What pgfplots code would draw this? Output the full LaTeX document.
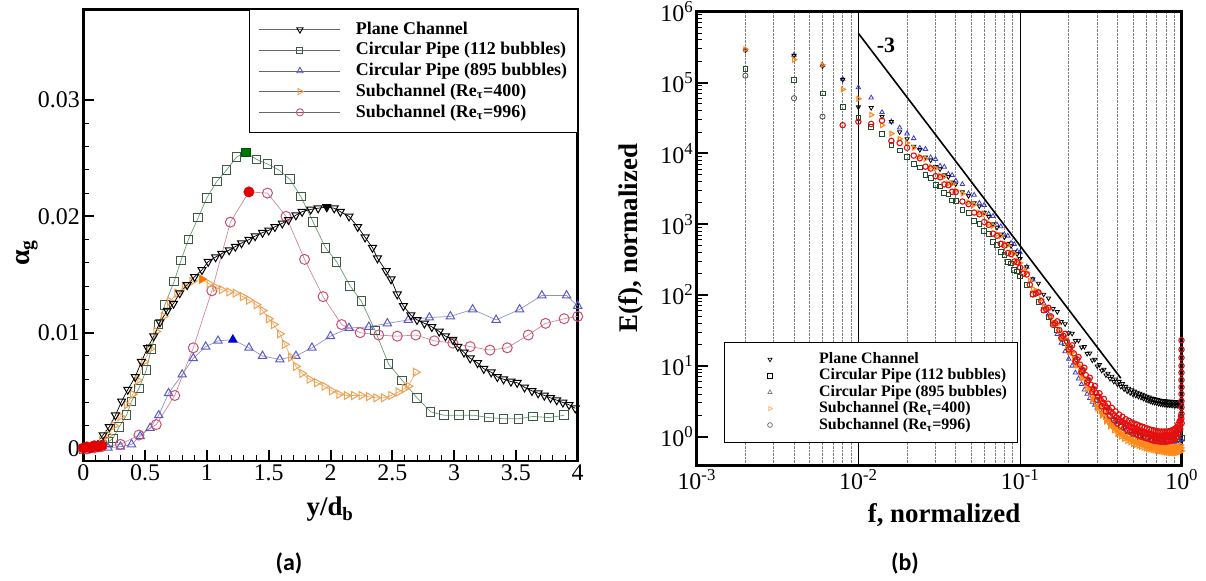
\documentclass[border=0pt]{standalone}
\usepackage{pgfplots}
\pgfplotsset{compat=1.18}
\usepackage{fontspec}
\setmainfont{Liberation Serif}
\newfontfamily\capfont{Carlito}
\definecolor{sqM}{HTML}{3C5A46}\definecolor{sqL}{HTML}{6A9A70}
\definecolor{trM}{HTML}{5A5AD0}\definecolor{trL}{HTML}{9090C8}
\definecolor{orM}{HTML}{F0A050}\definecolor{orL}{HTML}{F0B070}
\definecolor{ciM}{HTML}{C8506E}\definecolor{ciL}{HTML}{D08898}
\definecolor{rG}{HTML}{1F4F2A}\definecolor{rB}{HTML}{3A3AD0}
\definecolor{rO}{HTML}{FF8A1A}\definecolor{rR}{HTML}{E41010}
\pgfplotsset{
 legL/.style={legend image code/.code={\draw[mark repeat=2,mark phase=2,##1] plot coordinates {(0bp,0bp) (40.5bp,0bp) (81bp,0bp)};}},
 legR/.style={legend image code/.code={\path (-13bp,0bp) (44bp,0bp); \draw[##1] plot coordinates {(22bp,0bp)};}},
}
\begin{document}
\begin{tikzpicture}[x=1bp,y=1bp]
\useasboundingbox (0,0) rectangle (1206,581);
% ---------------- (a) ----------------
\begin{axis}[at={(83.3bp,120bp)}, anchor=south west, scale only axis,
 width=494.4bp, height=451.7bp, xmin=0, xmax=4, ymin=-0.00103, ymax=0.0378,
 clip=false, scaled x ticks=false, scaled y ticks=false,
 xtick={0,0.5,1,1.5,2,2.5,3,3.5,4}, xticklabels={0,0.5,1,1.5,2,2.5,3,3.5,4},
 ytick={0,0.01,0.02,0.03}, yticklabels={0,0.01,0.02,0.03},
 minor x tick num=4, minor y tick num=4,
 tick align=inside, xtick pos=left, ytick pos=left,
 major tick length=11bp, minor tick length=5.5bp,
 major tick style={line width=2bp, black}, minor tick style={line width=1bp, black},
 axis line style={line width=2.6bp},
 tick label style={font=\fontsize{24}{28}\selectfont},
 legend cell align=left,
 legend style={at={(1,1)}, anchor=north east, draw=black, line width=1bp, fill=white,
  font=\fontsize{18}{20}\selectfont\bfseries, inner xsep=10bp, inner ysep=10.5bp,
  row sep=2.2bp, column sep=15bp, nodes={inner sep=0pt, text height=14bp, text depth=4.5bp}},
]
\addlegendimage{legL, color=gray!80!black, line width=0.8bp, mark=triangle, mark size=3.6bp, mark options={rotate=180, solid, draw=black, line width=0.9bp}}
\addlegendentry{Plane Channel}
\addlegendimage{legL, color=gray!80!black, line width=0.8bp, mark=square, mark size=3bp, mark options={solid, draw=sqM, line width=0.9bp}}
\addlegendentry{Circular Pipe (112 bubbles)}
\addlegendimage{legL, color=gray!80!black, line width=0.8bp, mark=triangle, mark size=3.6bp, mark options={solid, draw=trM, line width=0.9bp}}
\addlegendentry{Circular Pipe (895 bubbles)}
\addlegendimage{legL, color=gray!80!black, line width=0.8bp, mark=triangle, mark size=3.6bp, mark options={rotate=-90, solid, draw=orM, line width=0.9bp}}
\addlegendentry{Subchannel (Re\textsubscript{τ}=400)}
\addlegendimage{legL, color=gray!80!black, line width=0.8bp, mark=o, mark size=3.6bp, mark options={solid, draw=ciM, line width=0.9bp}}
\addlegendentry{Subchannel (Re\textsubscript{τ}=996)}
% Circular pipe 112
\addplot[forget plot, color=sqL, line width=0.7bp, mark=square, mark size=4.3bp, mark options={draw=sqM, line width=1bp}] coordinates {
(0,0) (0.05,0.0001) (0.10,0.0002) (0.15,0.0004) (0.20,0.0006) (0.24,0.0009) (0.29,0.0019) (0.35,0.0029) (0.39,0.0041) (0.45,0.0052) (0.51,0.0068) (0.55,0.0086) (0.61,0.0107) (0.66,0.0124) (0.735,0.0144) (0.79,0.0162) (0.85,0.0180) (0.93,0.0199) (1.00,0.0216) (1.08,0.0230) (1.16,0.0240) (1.24,0.0251) (1.315,0.0255) (1.40,0.0249) (1.49,0.0245) (1.58,0.0240) (1.67,0.0232) (1.76,0.0217) (1.86,0.0195) (1.96,0.0173) (2.05,0.0161) (2.16,0.0140) (2.25,0.0127) (2.36,0.0102) (2.47,0.0073) (2.58,0.0059) (2.70,0.0044) (2.81,0.0032) (2.92,0.0029) (3.04,0.0029) (3.16,0.0029) (3.28,0.0027) (3.40,0.0026) (3.52,0.0026) (3.64,0.0028) (3.77,0.0027) (3.89,0.0029)};
% Circular pipe 895
\addplot[forget plot, color=trL, line width=0.7bp, mark=triangle, mark size=4.8bp, mark options={draw=trM, line width=1bp}] coordinates {
(0,0) (0.10,0.0000) (0.20,0.0001) (0.30,0.0002) (0.39,0.0004) (0.46,0.0011) (0.54,0.0018) (0.61,0.0029) (0.69,0.0048) (0.80,0.0064) (0.89,0.0078) (0.99,0.0088) (1.09,0.0093) (1.21,0.0094) (1.34,0.0087) (1.45,0.0080) (1.59,0.0077) (1.72,0.0080) (1.85,0.0087) (2.00,0.0097) (2.15,0.0104) (2.31,0.0105) (2.46,0.0108) (2.63,0.0111) (2.80,0.0113) (2.97,0.0114) (3.15,0.0120) (3.34,0.0111) (3.53,0.0120) (3.71,0.0132) (3.91,0.0132) (4.0,0.0123)};
% Subchannel 996
\addplot[forget plot, color=ciL, line width=0.7bp, mark=o, mark size=5bp, mark options={draw=ciM, line width=1bp}] coordinates {
(0,0) (0.03,0.0000) (0.06,0.0001) (0.09,0.0001) (0.12,0.0002) (0.15,0.0002) (0.30,0.0004) (0.45,0.0012) (0.59,0.0021) (0.74,0.0046) (0.89,0.0087) (1.04,0.0136) (1.19,0.0195) (1.34,0.0221) (1.49,0.0220) (1.64,0.0200) (1.79,0.0163) (1.94,0.0131) (2.09,0.0107) (2.24,0.0100) (2.39,0.0098) (2.54,0.0097) (2.69,0.0098) (2.84,0.0093) (2.99,0.0091) (3.13,0.0088) (3.29,0.0085) (3.43,0.0087) (3.60,0.0098) (3.74,0.0108) (3.89,0.0112) (4.0,0.0114)};
% Subchannel 400
\addplot[forget plot, color=orL, line width=0.7bp, mark=triangle, mark size=4.6bp, mark options={rotate=-90, draw=orM, line width=1bp}] coordinates {
(0,0) (0.05,0.0001) (0.10,0.0003) (0.15,0.0007) (0.20,0.0012) (0.25,0.0020) (0.30,0.0028) (0.35,0.0038) (0.40,0.0047) (0.44,0.0059) (0.49,0.0075) (0.54,0.0086) (0.59,0.0101) (0.65,0.0114) (0.70,0.0127) (0.76,0.0134) (0.82,0.0140) (0.88,0.0144) (0.96,0.0146) (1.02,0.0142) (1.07,0.0139) (1.12,0.0137) (1.18,0.0135) (1.23,0.0134) (1.29,0.0131) (1.34,0.0128) (1.40,0.0124) (1.45,0.0119) (1.50,0.0112) (1.54,0.0107) (1.59,0.0099) (1.63,0.0090) (1.68,0.0079) (1.72,0.0071) (1.77,0.0065) (1.83,0.0060) (1.89,0.0057) (1.95,0.0054) (2.01,0.0050) (2.07,0.0047) (2.13,0.0046) (2.19,0.0046) (2.25,0.0046) (2.31,0.0045) (2.37,0.0044) (2.43,0.0044) (2.49,0.0046) (2.55,0.0049) (2.60,0.0052) (2.63,0.0054) (2.69,0.0066)};
% Plane channel
\addplot[forget plot, color=black, line width=0.7bp, mark=triangle, mark size=4.6bp, mark options={rotate=180, line width=1bp}] coordinates {
(0,0) (0.05,0.0001) (0.10,0.0004) (0.16,0.0012) (0.21,0.0019) (0.26,0.0029) (0.31,0.0041) (0.36,0.0051) (0.42,0.0062) (0.47,0.0075) (0.52,0.0087) (0.57,0.0097) (0.62,0.0109) (0.68,0.0119) (0.73,0.0125) (0.78,0.0134) (0.84,0.0141) (0.90,0.0148) (0.96,0.0154) (1.01,0.0161) (1.07,0.0165) (1.12,0.0168) (1.18,0.0171) (1.23,0.0174) (1.28,0.0177) (1.34,0.0180) (1.39,0.0183) (1.45,0.0186) (1.50,0.0188) (1.55,0.0191) (1.61,0.0194) (1.66,0.0197) (1.72,0.0201) (1.77,0.0204) (1.84,0.0206) (1.90,0.0207) (1.97,0.0208) (2.03,0.0207) (2.08,0.0204) (2.15,0.0200) (2.22,0.0191) (2.28,0.0182) (2.34,0.0173) (2.38,0.0164) (2.45,0.0153) (2.49,0.0146) (2.54,0.0133) (2.59,0.0123) (2.65,0.0115) (2.70,0.0111) (2.76,0.0108) (2.82,0.0105) (2.88,0.0101) (2.93,0.0097) (2.99,0.0094) (3.03,0.0088) (3.08,0.0083) (3.13,0.0078) (3.19,0.0074) (3.24,0.0069) (3.30,0.0066) (3.35,0.0062) (3.40,0.0060) (3.46,0.0058) (3.51,0.0057) (3.57,0.0053) (3.63,0.0050) (3.68,0.0048) (3.73,0.0046) (3.78,0.0044) (3.83,0.0042) (3.88,0.0040) (3.93,0.0038) (3.98,0.0035)};
% filled peak markers
\addplot[forget plot, only marks, mark=triangle*, mark size=4.6bp, mark options={rotate=180, fill=black, draw=black}] coordinates {(1.97,0.0208)};
\addplot[forget plot, only marks, mark=square*, mark size=4.3bp, mark options={fill=green!45!black, draw=green!35!black}] coordinates {(1.315,0.0255)};
\addplot[forget plot, only marks, mark=triangle*, mark size=4.8bp, mark options={fill=blue!85!black, draw=blue!85!black}] coordinates {(1.21,0.0094)};
\addplot[forget plot, only marks, mark=triangle*, mark size=4.6bp, mark options={rotate=-90, fill=orange!90!red, draw=orange!90!red}] coordinates {(0.96,0.0146)};
\addplot[forget plot, only marks, mark=*, mark size=5bp, mark options={fill=red!90!black, draw=red!90!black}] coordinates {(1.34,0.0221) (0,0.0001) (0.03,0.0002) (0.06,0.0001) (0.09,0.0003) (0.12,0.0002) (0.15,0.0003)};
\end{axis}
% ---------------- (b) ----------------
\begin{axis}[at={(696.7bp,115.5bp)}, anchor=south west, scale only axis,
 width=485bp, height=453.8bp, xmode=log, ymode=log,
 xmin=0.001, xmax=1, ymin=0.392, ymax=1000000, clip=false,
 xtick={0.001,0.01,0.1,1},
 xticklabels={10\textsuperscript{-3},10\textsuperscript{-2},10\textsuperscript{-1},10\textsuperscript{0}},
 ytick={1,10,100,1000,10000,100000,1000000},
 yticklabels={10\textsuperscript{0},10\textsuperscript{1},10\textsuperscript{2},10\textsuperscript{3},10\textsuperscript{4},10\textsuperscript{5},10\textsuperscript{6}},
 tick align=inside, xtick pos=left, ytick pos=left,
 major tick length=11bp, minor tick length=5.5bp,
 major tick style={line width=2bp, black}, minor tick style={line width=1bp, black},
 every x tick/.style={draw=none}, every major x tick/.style={draw=none}, every minor x tick/.style={draw=none},
 xmajorgrids, xminorgrids,
 major grid style={black, line width=0.8bp, solid},
 minor grid style={gray, densely dotted, line width=0.7bp},
 axis line style={line width=2.8bp},
 tick label style={font=\fontsize{24}{28}\selectfont},
 legend cell align=left,
 legend style={at={(0.0557,0.0502)}, anchor=south west, draw=black, line width=1bp, fill=white,
  font=\fontsize{16}{18}\selectfont\bfseries, inner xsep=10.3bp, inner ysep=9.2bp,
  row sep=0.4bp, column sep=26.6bp, nodes={inner sep=0pt, text height=12bp, text depth=4bp}},
]
\addlegendimage{only marks, legR, mark=triangle, mark size=2.4bp, mark options={rotate=180, draw=black, line width=0.7bp}}
\addlegendentry{Plane Channel}
\addlegendimage{only marks, legR, mark=square, mark size=2.2bp, mark options={draw=black, line width=0.7bp}}
\addlegendentry{Circular Pipe (112 bubbles)}
\addlegendimage{only marks, legR, mark=triangle, mark size=2.4bp, mark options={draw=gray, line width=0.7bp}}
\addlegendentry{Circular Pipe (895 bubbles)}
\addlegendimage{only marks, legR, mark=triangle, mark size=2.4bp, mark options={rotate=-90, draw=orange!60, line width=0.7bp}}
\addlegendentry{Subchannel (Re\textsubscript{τ}=400)}
\addlegendimage{only marks, legR, mark=o, mark size=2.4bp, mark options={draw=gray!80!black, line width=0.7bp}}
\addlegendentry{Subchannel (Re\textsubscript{τ}=996)}
% reference slope -3
\addplot[forget plot, black, line width=1.6bp] coordinates {(0.01,495000) (0.42,6.7)};
\node[font=\bfseries\fontsize{22}{24}\selectfont] at (axis cs:0.0148,340000) {-3};
% Circular pipe 112 (squares)
\addplot[forget plot, only marks, mark=square, mark size=2.4bp, mark options={draw=rG, line width=0.8bp}] coordinates {
(0.002,155000) (0.004,110000) (0.006,70000) (0.008,45000) (0.010,32000) (0.012,23500) (0.014,19000) (0.016,13000) (0.018,11000) (0.020,9000)
(0.022,7040) (0.024,6330) (0.026,4920) (0.028,4540) (0.030,3610) (0.032,3410) (0.034,2760) (0.036,2640) (0.038,2170) (0.040,2110)
(0.044,1590) (0.048,1430) (0.052,1110) (0.056,1020) (0.060,814) (0.064,726) (0.068,559) (0.072,510) (0.076,401) (0.080,371)
(0.084,296) (0.088,280) (0.092,225) (0.096,215) (0.100,183)
(0.11,140) (0.12,105) (0.13,80) (0.14,62) (0.15,49) (0.16,40) (0.17,32) (0.18,26) (0.19,21) (0.20,17.5)
(0.22,12) (0.24,8.5) (0.26,6.2) (0.28,4.6) (0.30,3.6) (0.34,2.3) (0.38,1.7) (0.42,1.38) (0.46,1.2) (0.50,1.08)
(0.55,1.0) (0.60,0.95) (0.65,0.92) (0.70,0.9) (0.75,0.88) (0.80,0.88) (0.85,0.88) (0.90,0.9) (0.95,0.92) (1.00,0.95)};
% Circular pipe 895 (triangles)
\addplot[forget plot, only marks, mark=triangle, mark size=2.6bp, mark options={draw=rB, line width=0.8bp}] coordinates {
(0.002,290000) (0.004,245000) (0.006,175000) (0.008,112000) (0.010,85000) (0.012,61000) (0.014,38000) (0.016,28000) (0.018,23000) (0.020,19000)
(0.022,16300) (0.024,11900) (0.026,11500) (0.028,8750) (0.030,8260) (0.032,6640) (0.034,6440) (0.036,5100) (0.038,4920) (0.040,4110)
(0.044,3660) (0.048,2720) (0.052,2580) (0.056,1990) (0.060,1860) (0.064,1400) (0.068,1300) (0.072,984) (0.076,926) (0.080,716)
(0.084,685) (0.088,540) (0.092,521) (0.096,415) (0.100,398)
(0.11,250) (0.12,165) (0.13,110) (0.14,76) (0.15,53) (0.16,38) (0.17,28) (0.18,21) (0.19,16) (0.20,12.5)
(0.21,10) (0.22,8) (0.23,6.6) (0.24,5.5) (0.25,4.6) (0.26,4.0) (0.27,3.5) (0.28,3.1) (0.29,2.8) (0.30,2.55)
(0.32,2.2) (0.34,1.95) (0.36,1.75) (0.38,1.6) (0.40,1.48) (0.45,1.25) (0.50,1.1) (0.55,1.0) (0.60,0.93) (0.65,0.88)
(0.70,0.85) (0.75,0.83) (0.80,0.82) (0.85,0.82) (0.90,0.83) (0.95,0.86) (1.00,0.9)};
% Plane channel (down triangles)
\addplot[forget plot, only marks, mark=triangle, mark size=2.4bp, mark options={rotate=180, draw=black, line width=0.8bp}] coordinates {
(0.002,285000) (0.004,240000) (0.006,170000) (0.008,110000) (0.010,45000) (0.012,44000) (0.014,33000) (0.016,28000) (0.018,20000) (0.020,16000)
(0.022,12500) (0.024,11250) (0.026,8830) (0.028,7990) (0.030,6490) (0.032,6000) (0.034,4970) (0.036,4660) (0.038,3900) (0.040,3680)
(0.044,2850) (0.048,2510) (0.052,1990) (0.056,1800) (0.060,1460) (0.064,1280) (0.068,1004) (0.072,898) (0.076,720) (0.080,654)
(0.084,532) (0.088,493) (0.092,405) (0.096,379) (0.100,325)
(0.11,249) (0.12,169) (0.13,146) (0.14,102) (0.15,90) (0.16,64) (0.17,58) (0.18,42) (0.19,39) (0.20,29)
(0.21,28.6) (0.22,22.6) (0.23,22.8) (0.24,18.3) (0.25,18.6) (0.26,14.9) (0.27,15.1) (0.28,12.0) (0.29,12.3) (0.30,9.9)
(0.31,10.4) (0.32,8.6) (0.33,8.9) (0.34,7.4) (0.35,7.8) (0.36,6.6) (0.37,7.1) (0.38,6.0) (0.39,6.5) (0.40,5.5)
(0.41,6.0) (0.42,5.1) (0.43,5.6) (0.44,4.7) (0.45,5.1) (0.46,4.4) (0.47,4.8) (0.48,4.15) (0.49,4.56) (0.50,3.95)
(0.51,4.37) (0.52,3.81) (0.53,4.22) (0.54,3.68) (0.55,4.09) (0.56,3.57) (0.57,3.95) (0.58,3.45) (0.59,3.83) (0.60,3.34)
(0.61,3.71) (0.62,3.24) (0.63,3.60) (0.64,3.15) (0.65,3.50) (0.66,3.07) (0.67,3.43) (0.68,3.02) (0.69,3.37) (0.70,2.96)
(0.71,3.32) (0.72,2.92) (0.73,3.28) (0.74,2.89) (0.75,3.23) (0.76,2.86) (0.77,3.21) (0.78,2.84) (0.79,3.19) (0.80,2.82)
(0.81,3.17) (0.82,2.80) (0.83,3.15) (0.84,2.79) (0.85,3.14) (0.86,2.78) (0.87,3.13) (0.88,2.77) (0.89,3.12) (0.90,2.76)
(0.91,3.12) (0.92,2.75) (0.93,3.11) (0.94,2.75) (0.95,3.11) (0.96,2.75) (0.97,3.11) (0.98,2.76) (0.99,3.12) (1.00,2.77)};
% Subchannel 400 (right triangles)
\addplot[forget plot, only marks, mark=triangle, mark size=2.7bp, mark options={rotate=-90, draw=rO, line width=1.1bp}] coordinates {
(0.002,295000) (0.004,210000) (0.006,177000) (0.008,80000) (0.010,59000) (0.012,35000) (0.014,25000) (0.016,19000) (0.018,16000) (0.020,14000)
(0.022,11980) (0.024,8990) (0.026,8360) (0.028,6450) (0.030,6140) (0.032,4840) (0.034,4700) (0.036,3760) (0.038,3700) (0.040,3000)
(0.044,2700) (0.048,2030) (0.052,1885) (0.056,1450) (0.060,1385) (0.064,1030) (0.068,951) (0.072,725) (0.076,682) (0.080,528)
(0.084,504) (0.088,398) (0.092,383) (0.096,306) (0.100,284)
(0.11,209) (0.12,122) (0.13,110) (0.14,68) (0.15,64) (0.16,40.5) (0.17,38.5) (0.18,24.8) (0.19,24.2) (0.20,15.8)
(0.21,15.4) (0.22,10.2) (0.23,10.1) (0.24,6.75) (0.25,6.8) (0.26,4.68) (0.27,4.84) (0.28,3.33) (0.29,3.47) (0.30,2.48)
(0.31,2.70) (0.32,1.98) (0.33,2.2) (0.34,1.64) (0.35,1.84) (0.36,1.40) (0.37,1.60) (0.38,1.22) (0.39,1.41) (0.40,1.09)
(0.41,1.28) (0.42,1.0) (0.43,1.18) (0.44,0.93) (0.45,1.10) (0.46,0.87) (0.47,1.03) (0.48,0.83) (0.49,0.99) (0.50,0.79)
(0.51,0.95) (0.52,0.765) (0.53,0.91) (0.54,0.74) (0.55,0.89) (0.56,0.72) (0.57,0.87) (0.58,0.70) (0.59,0.85) (0.60,0.684)
(0.61,0.825) (0.62,0.67) (0.63,0.814) (0.64,0.66) (0.65,0.80) (0.66,0.648) (0.67,0.787) (0.68,0.639) (0.69,0.776) (0.70,0.63)
(0.71,0.765) (0.72,0.621) (0.73,0.759) (0.74,0.617) (0.75,0.748) (0.76,0.612) (0.77,0.743) (0.78,0.603) (0.79,0.737) (0.80,0.60)
(0.81,0.726) (0.82,0.594) (0.83,0.72) (0.84,0.59) (0.85,0.715) (0.86,0.585) (0.87,0.715) (0.88,0.585) (0.89,0.715) (0.90,0.585)
(0.91,0.715) (0.92,0.585) (0.93,0.72) (0.94,0.594) (0.95,0.726) (0.96,0.60) (0.97,0.737) (0.98,0.612) (0.99,0.76) (1.00,0.63)
(0.105,235) (0.115,160) (0.125,116) (0.135,87) (0.145,66) (0.155,51) (0.165,40) (0.175,31) (0.185,24.6) (0.195,19.6)
(0.205,15.6) (0.215,12.6) (0.225,10.2) (0.235,8.3) (0.245,6.8) (0.255,5.7) (0.265,4.8) (0.275,4.05) (0.285,3.42) (0.295,2.95)
(0.305,2.6) (0.315,2.32) (0.325,2.1) (0.335,1.91) (0.345,1.74) (0.355,1.61) (0.365,1.5) (0.375,1.4) (0.385,1.32) (0.395,1.24)
(0.405,1.18) (0.415,1.13) (0.425,1.09) (0.435,1.05) (0.445,1.01) (0.455,0.985) (0.465,0.955) (0.475,0.93) (0.485,0.91) (0.495,0.89)
(0.505,0.87) (0.515,0.855) (0.525,0.84) (0.535,0.825) (0.545,0.815) (0.555,0.805) (0.565,0.795) (0.575,0.785) (0.585,0.775) (0.595,0.765)
(0.605,0.755) (0.615,0.747) (0.625,0.742) (0.635,0.737) (0.645,0.732) (0.655,0.725) (0.665,0.717) (0.675,0.712) (0.685,0.707) (0.695,0.702)
(0.705,0.697) (0.715,0.692) (0.725,0.69) (0.735,0.687) (0.745,0.682) (0.755,0.68) (0.765,0.677) (0.775,0.672) (0.785,0.67) (0.795,0.667)
(0.805,0.662) (0.815,0.66) (0.825,0.657) (0.835,0.655) (0.845,0.652) (0.855,0.65) (0.865,0.65) (0.875,0.65) (0.885,0.65) (0.895,0.65)
(0.905,0.65) (0.915,0.65) (0.925,0.65) (0.935,0.657) (0.945,0.66) (0.955,0.662) (0.965,0.667) (0.975,0.675) (0.985,0.685) (0.995,0.695)};
% Subchannel 996 (circles)
\addplot[forget plot, only marks, mark=o, mark size=2.6bp, mark options={draw=gray!60!black, line width=0.8bp}] coordinates {
(0.002,125000) (0.004,60000) (0.006,33000)};
\addplot[forget plot, only marks, mark=o, mark size=2.7bp, mark options={draw=rR, line width=1.1bp}] coordinates {
(0.008,25000) (0.010,28000) (0.012,26000) (0.014,29000) (0.016,15000) (0.018,14000) (0.020,12000)
(0.022,9290) (0.024,8520) (0.026,6490) (0.028,6110) (0.030,4770) (0.032,4590) (0.034,3650) (0.036,3560) (0.038,2870) (0.040,2840)
(0.044,2090) (0.048,1920) (0.052,1460) (0.056,1380) (0.060,1075) (0.064,978) (0.068,737) (0.072,687) (0.076,529) (0.080,500)
(0.084,391) (0.088,377) (0.092,297) (0.096,290) (0.100,244)
(0.11,195) (0.12,102) (0.13,109) (0.14,61) (0.15,66) (0.16,38) (0.17,42.5) (0.18,24.7) (0.19,28.3) (0.20,17)
(0.21,19.5) (0.22,11.5) (0.23,13.3) (0.24,8.1) (0.25,9.4) (0.26,5.8) (0.27,6.8) (0.28,4.25) (0.29,5.2) (0.30,3.3)
(0.31,4.1) (0.32,2.68) (0.33,3.42) (0.34,2.28) (0.35,2.93) (0.36,1.96) (0.37,2.55) (0.38,1.73) (0.39,2.27) (0.40,1.53)
(0.41,2.05) (0.42,1.43) (0.43,1.91) (0.44,1.33) (0.45,1.77) (0.46,1.24) (0.47,1.68) (0.48,1.17) (0.49,1.59) (0.50,1.12)
(0.51,1.53) (0.52,1.08) (0.53,1.48) (0.54,1.04) (0.55,1.42) (0.56,1.0) (0.57,1.38) (0.58,0.98) (0.59,1.35) (0.60,0.95)
(0.61,1.31) (0.62,0.935) (0.63,1.27) (0.64,0.91) (0.65,1.25) (0.66,0.89) (0.67,1.23) (0.68,0.875) (0.69,1.20) (0.70,0.867)
(0.71,1.19) (0.72,0.86) (0.73,1.18) (0.74,0.85) (0.75,1.18) (0.76,0.85) (0.77,1.18) (0.78,0.85) (0.79,1.18) (0.80,0.85)
(0.81,1.18) (0.82,0.86) (0.83,1.19) (0.84,0.867) (0.85,1.20) (0.86,0.875) (0.87,1.23) (0.88,0.89) (0.89,1.25) (0.90,0.92)
(0.91,1.30) (0.92,0.95) (0.93,1.36) (0.94,1.01) (0.95,1.48) (0.96,1.12) (0.97,1.65) (0.98,1.28) (0.99,1.95) (1.00,1.55)
(0.105,200) (0.115,140) (0.125,105) (0.135,82) (0.145,63) (0.155,50) (0.165,40) (0.175,32) (0.185,26.5) (0.195,22)
(0.205,18.2) (0.215,15) (0.225,12.4) (0.235,10.4) (0.245,8.7) (0.255,7.4) (0.265,6.3) (0.275,5.4) (0.285,4.7) (0.295,4.15)
(0.305,3.7) (0.315,3.32) (0.325,3.02) (0.335,2.79) (0.345,2.58) (0.355,2.39) (0.365,2.23) (0.375,2.1) (0.385,1.97) (0.395,1.86)
(0.405,1.77) (0.415,1.71) (0.425,1.65) (0.435,1.59) (0.445,1.53) (0.455,1.48) (0.465,1.44) (0.475,1.40) (0.485,1.36) (0.495,1.33)
(0.505,1.31) (0.515,1.28) (0.525,1.26) (0.535,1.23) (0.545,1.21) (0.555,1.19) (0.565,1.17) (0.575,1.16) (0.585,1.14) (0.595,1.13)
(0.605,1.11) (0.615,1.10) (0.625,1.09) (0.635,1.07) (0.645,1.06) (0.655,1.05) (0.665,1.04) (0.675,1.03) (0.685,1.02) (0.695,1.02)
(0.705,1.01) (0.715,1.01) (0.725,1.0) (0.735,1.0) (0.745,1.0) (0.755,1.0) (0.765,1.0) (0.775,1.0) (0.785,1.0) (0.795,1.0)
(0.805,1.0) (0.815,1.01) (0.825,1.01) (0.835,1.02) (0.845,1.02) (0.855,1.03) (0.865,1.04) (0.875,1.05) (0.885,1.06) (0.895,1.08)
(0.905,1.1) (0.915,1.12) (0.925,1.15) (0.935,1.19) (0.945,1.25) (0.955,1.32) (0.965,1.4) (0.975,1.5) (0.985,1.65) (0.995,1.8)
(0.997,23) (0.997,17) (0.997,13) (0.997,10) (0.997,8) (0.997,6.3) (0.997,5) (0.997,4) (0.997,3.2) (0.997,2.6) (0.997,2.1)};
\end{axis}
% ---------------- labels ----------------
\node[font=\bfseries\fontsize{28}{30}\selectfont, rotate=90] at (27,328) {α\textsubscript{g}};
\node[font=\bfseries\fontsize{27}{30}\selectfont, anchor=base] at (330,65) {y/d\textsubscript{b}};
\node[font=\bfseries\fontsize{27}{30}\selectfont, anchor=base] at (944,58) {f, normalized};
\node[font=\bfseries\fontsize{27}{30}\selectfont, rotate=90] at (631,343) {E(f), normalized};
\node[font=\capfont\bfseries\fontsize{24}{28}\selectfont] at (289,18) {(a)};
\node[font=\capfont\bfseries\fontsize{24}{28}\selectfont] at (905,18) {(b)};
\end{tikzpicture}
\end{document}
